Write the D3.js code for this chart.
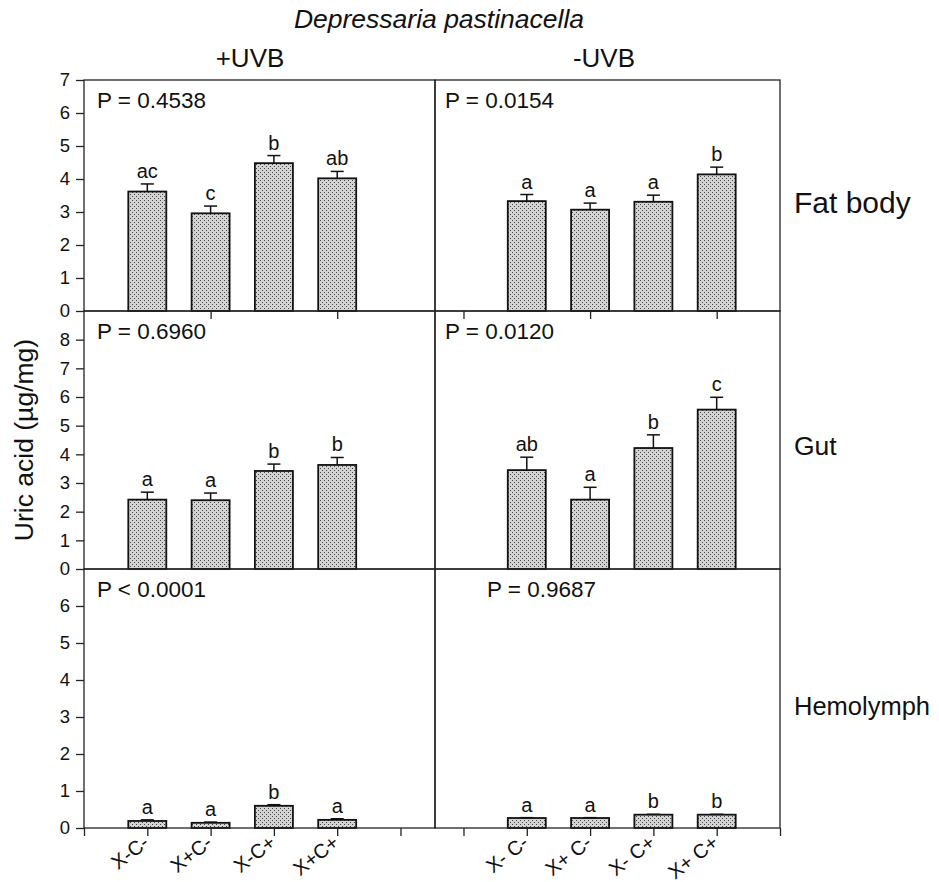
<!DOCTYPE html>
<html><head><meta charset="utf-8">
<script src="https://cdn.jsdelivr.net/npm/d3@7"></script>
<style>body{margin:0;background:#fff}text{font-family:"Liberation Sans",Arial,sans-serif;fill:#111}</style>
</head><body><div id="chart"></div>
<script>
// ---- data ----
const title = "Depressaria pastinacella";
const treatments = ["+UVB", "-UVB"];
const tissues = ["Fat body", "Gut", "Hemolymph"];
const categoriesPlus = ["X-C-", "X+C-", "X-C+", "X+C+"];
const categoriesMinus = ["X- C-", "X+ C-", "X- C+", "X+ C+"];
const yLabel = "Uric acid (\u00b5g/mg)";
const yMax = [7, 9, 7];
const yTicks = [[0,1,2,3,4,5,6,7],[0,1,2,3,4,5,6,7,8],[0,1,2,3,4,5,6]];

const fatPlusMean = [3.62, 2.96, 4.48, 4.02];
const fatPlusSE = [0.23, 0.22, 0.23, 0.21];
const fatPlusLetters = ["ac", "c", "b", "ab"];
const fatMinusMean = [3.33, 3.07, 3.31, 4.14];
const fatMinusSE = [0.2, 0.2, 0.2, 0.22];
const fatMinusLetters = ["a", "a", "a", "b"];
const gutPlusMean = [2.42, 2.40, 3.42, 3.63];
const gutPlusSE = [0.26, 0.25, 0.24, 0.26];
const gutPlusLetters = ["a", "a", "b", "b"];
const gutMinusMean = [3.45, 2.42, 4.22, 5.56];
const gutMinusSE = [0.45, 0.43, 0.46, 0.43];
const gutMinusLetters = ["ab", "a", "b", "c"];
const hemoPlusMean = [0.19, 0.14, 0.60, 0.22];
const hemoPlusSE = [0.03, 0.02, 0.03, 0.03];
const hemoPlusLetters = ["a", "a", "b", "a"];
const hemoMinusMean = [0.27, 0.27, 0.36, 0.36];
const hemoMinusSE = [0.01, 0.01, 0.01, 0.01];
const hemoMinusLetters = ["a", "a", "b", "b"];
const pValues = [["P = 0.4538", "P = 0.0154"], ["P = 0.6960", "P = 0.0120"], ["P < 0.0001", "P = 0.9687"]];

const panels = [
  [{m: fatPlusMean, s: fatPlusSE, l: fatPlusLetters}, {m: fatMinusMean, s: fatMinusSE, l: fatMinusLetters}],
  [{m: gutPlusMean, s: gutPlusSE, l: gutPlusLetters}, {m: gutMinusMean, s: gutMinusSE, l: gutMinusLetters}],
  [{m: hemoPlusMean, s: hemoPlusSE, l: hemoPlusLetters}, {m: hemoMinusMean, s: hemoMinusSE, l: hemoMinusLetters}]
];

// ---- layout ----
const W = 939, H = 882;
const svg = d3.select("#chart").append("svg").attr("width", W).attr("height", H);
const defs = svg.append("defs");
const pat = defs.append("pattern").attr("id", "dots").attr("patternUnits", "userSpaceOnUse")
  .attr("width", 4).attr("height", 4);
pat.append("rect").attr("width", 4).attr("height", 4).attr("fill", "#d4d4d4");
pat.append("rect").attr("x", 0).attr("y", 0).attr("width", 1).attr("height", 1).attr("fill", "#444");
pat.append("rect").attr("x", 2).attr("y", 2).attr("width", 1).attr("height", 1).attr("fill", "#444");

const xCols = [
  d3.scaleLinear().domain([0, 5.545]).range([84, 435]),
  d3.scaleLinear().domain([-0.45, 5.0]).range([435, 780])
];
const rowBounds = [[311, 80], [569, 311], [828, 569]];
const yRows = rowBounds.map((b, r) => d3.scaleLinear().domain([0, yMax[r]]).range(b));
const bw = 38;

const g = svg.append("g");

// bars
panels.forEach((row, r) => row.forEach((p, c) => {
  const x = xCols[c], y = yRows[r];
  const gp = g.append("g");
  gp.selectAll("rect.bar").data(p.m).join("rect").attr("class", "bar")
    .attr("x", (d, i) => x(i + 1) - bw / 2).attr("y", d => y(d))
    .attr("width", bw).attr("height", d => y(0) - y(d))
    .attr("fill", "url(#dots)").attr("stroke", "#111").attr("stroke-width", 1.8);
  gp.selectAll("line.err").data(p.m).join("line").attr("class", "err")
    .attr("x1", (d, i) => x(i + 1)).attr("x2", (d, i) => x(i + 1))
    .attr("y1", d => y(d)).attr("y2", (d, i) => y(d + p.s[i]))
    .attr("stroke", "#111").attr("stroke-width", 1.5);
  gp.selectAll("line.cap").data(p.m).join("line").attr("class", "cap")
    .attr("x1", (d, i) => x(i + 1) - 6.5).attr("x2", (d, i) => x(i + 1) + 6.5)
    .attr("y1", (d, i) => y(d + p.s[i])).attr("y2", (d, i) => y(d + p.s[i]))
    .attr("stroke", "#111").attr("stroke-width", 1.5);
  gp.selectAll("text.let").data(p.l).join("text").attr("class", "let")
    .attr("x", (d, i) => x(i + 1)).attr("y", (d, i) => y(p.m[i] + p.s[i]) - 6)
    .attr("text-anchor", "middle").attr("font-size", 20).text(d => d);
  // P value
  g.append("text").attr("x", c === 0 ? 97 : (r === 2 ? 487 : 445)).attr("y", y.range()[1] + 28)
    .attr("font-size", 22.5).text(pValues[r][c]);
  // frame
  g.append("rect").attr("x", x.range()[0]).attr("y", y.range()[1])
    .attr("width", x.range()[1] - x.range()[0]).attr("height", y.range()[0] - y.range()[1])
    .attr("fill", "none").attr("stroke", "#222").attr("stroke-width", 1.3);
}));

// y axes
yRows.forEach((y, r) => {
  const ax = g.append("g").attr("transform", "translate(84,0)")
    .call(d3.axisLeft(y).tickValues(yTicks[r]).tickSize(8).tickPadding(6).tickFormat(d3.format("d")));
  ax.select(".domain").remove();
  ax.selectAll("text").attr("font-size", 18.5).attr("font-family", "Liberation Sans, Arial, sans-serif").attr("fill", "#111");
  ax.selectAll("line").attr("stroke", "#222").attr("stroke-width", 1.3);
});

// top-row bottom ticks
[[2, 4], [0, 2, 4]].forEach((tv, c) => {
  const ax = g.append("g").attr("transform", `translate(0,${rowBounds[0][0]})`)
    .call(d3.axisBottom(xCols[c]).tickValues(tv).tickSize(8).tickFormat(""));
  ax.select(".domain").remove();
  ax.selectAll("line").attr("stroke", "#222").attr("stroke-width", 1.3);
});

// bottom axes
[[0, 1, 2, 3, 4, 5], [0, 1, 2, 3, 4, 5]].forEach((tv, c) => {
  const ax = g.append("g").attr("transform", `translate(0,${rowBounds[2][0]})`)
    .call(d3.axisBottom(xCols[c]).tickValues(tv).tickSize(8).tickFormat(""));
  ax.select(".domain").remove();
  ax.selectAll("line").attr("stroke", "#222").attr("stroke-width", 1.3);
});
[categoriesPlus, categoriesMinus].forEach((cats, c) => {
  g.selectAll(null).data(cats).join("text")
    .attr("transform", (d, i) => `translate(${xCols[c](i + 1) + 3},${rowBounds[2][0] + 17}) rotate(-38)`)
    .attr("text-anchor", "end").attr("font-size", 20).text(d => d);
});

// titles
svg.append("text").attr("x", 439).attr("y", 28).attr("text-anchor", "middle")
  .attr("font-size", 26.5).attr("font-style", "italic").text(title);
svg.append("text").attr("x", 250).attr("y", 67).attr("text-anchor", "middle").attr("font-size", 26).text(treatments[0]);
svg.append("text").attr("x", 604).attr("y", 67).attr("text-anchor", "middle").attr("font-size", 26).text(treatments[1]);
const rowLabelY = [213, 455, 715];
const rowLabelSize = [30, 26.5, 25.5];
tissues.forEach((t, r) => svg.append("text").attr("x", 794).attr("y", rowLabelY[r]).attr("font-size", rowLabelSize[r]).text(t));
svg.append("text").attr("transform", "translate(33,440) rotate(-90)").attr("text-anchor", "middle")
  .attr("font-size", 26.5).text(yLabel);
</script></body></html>
